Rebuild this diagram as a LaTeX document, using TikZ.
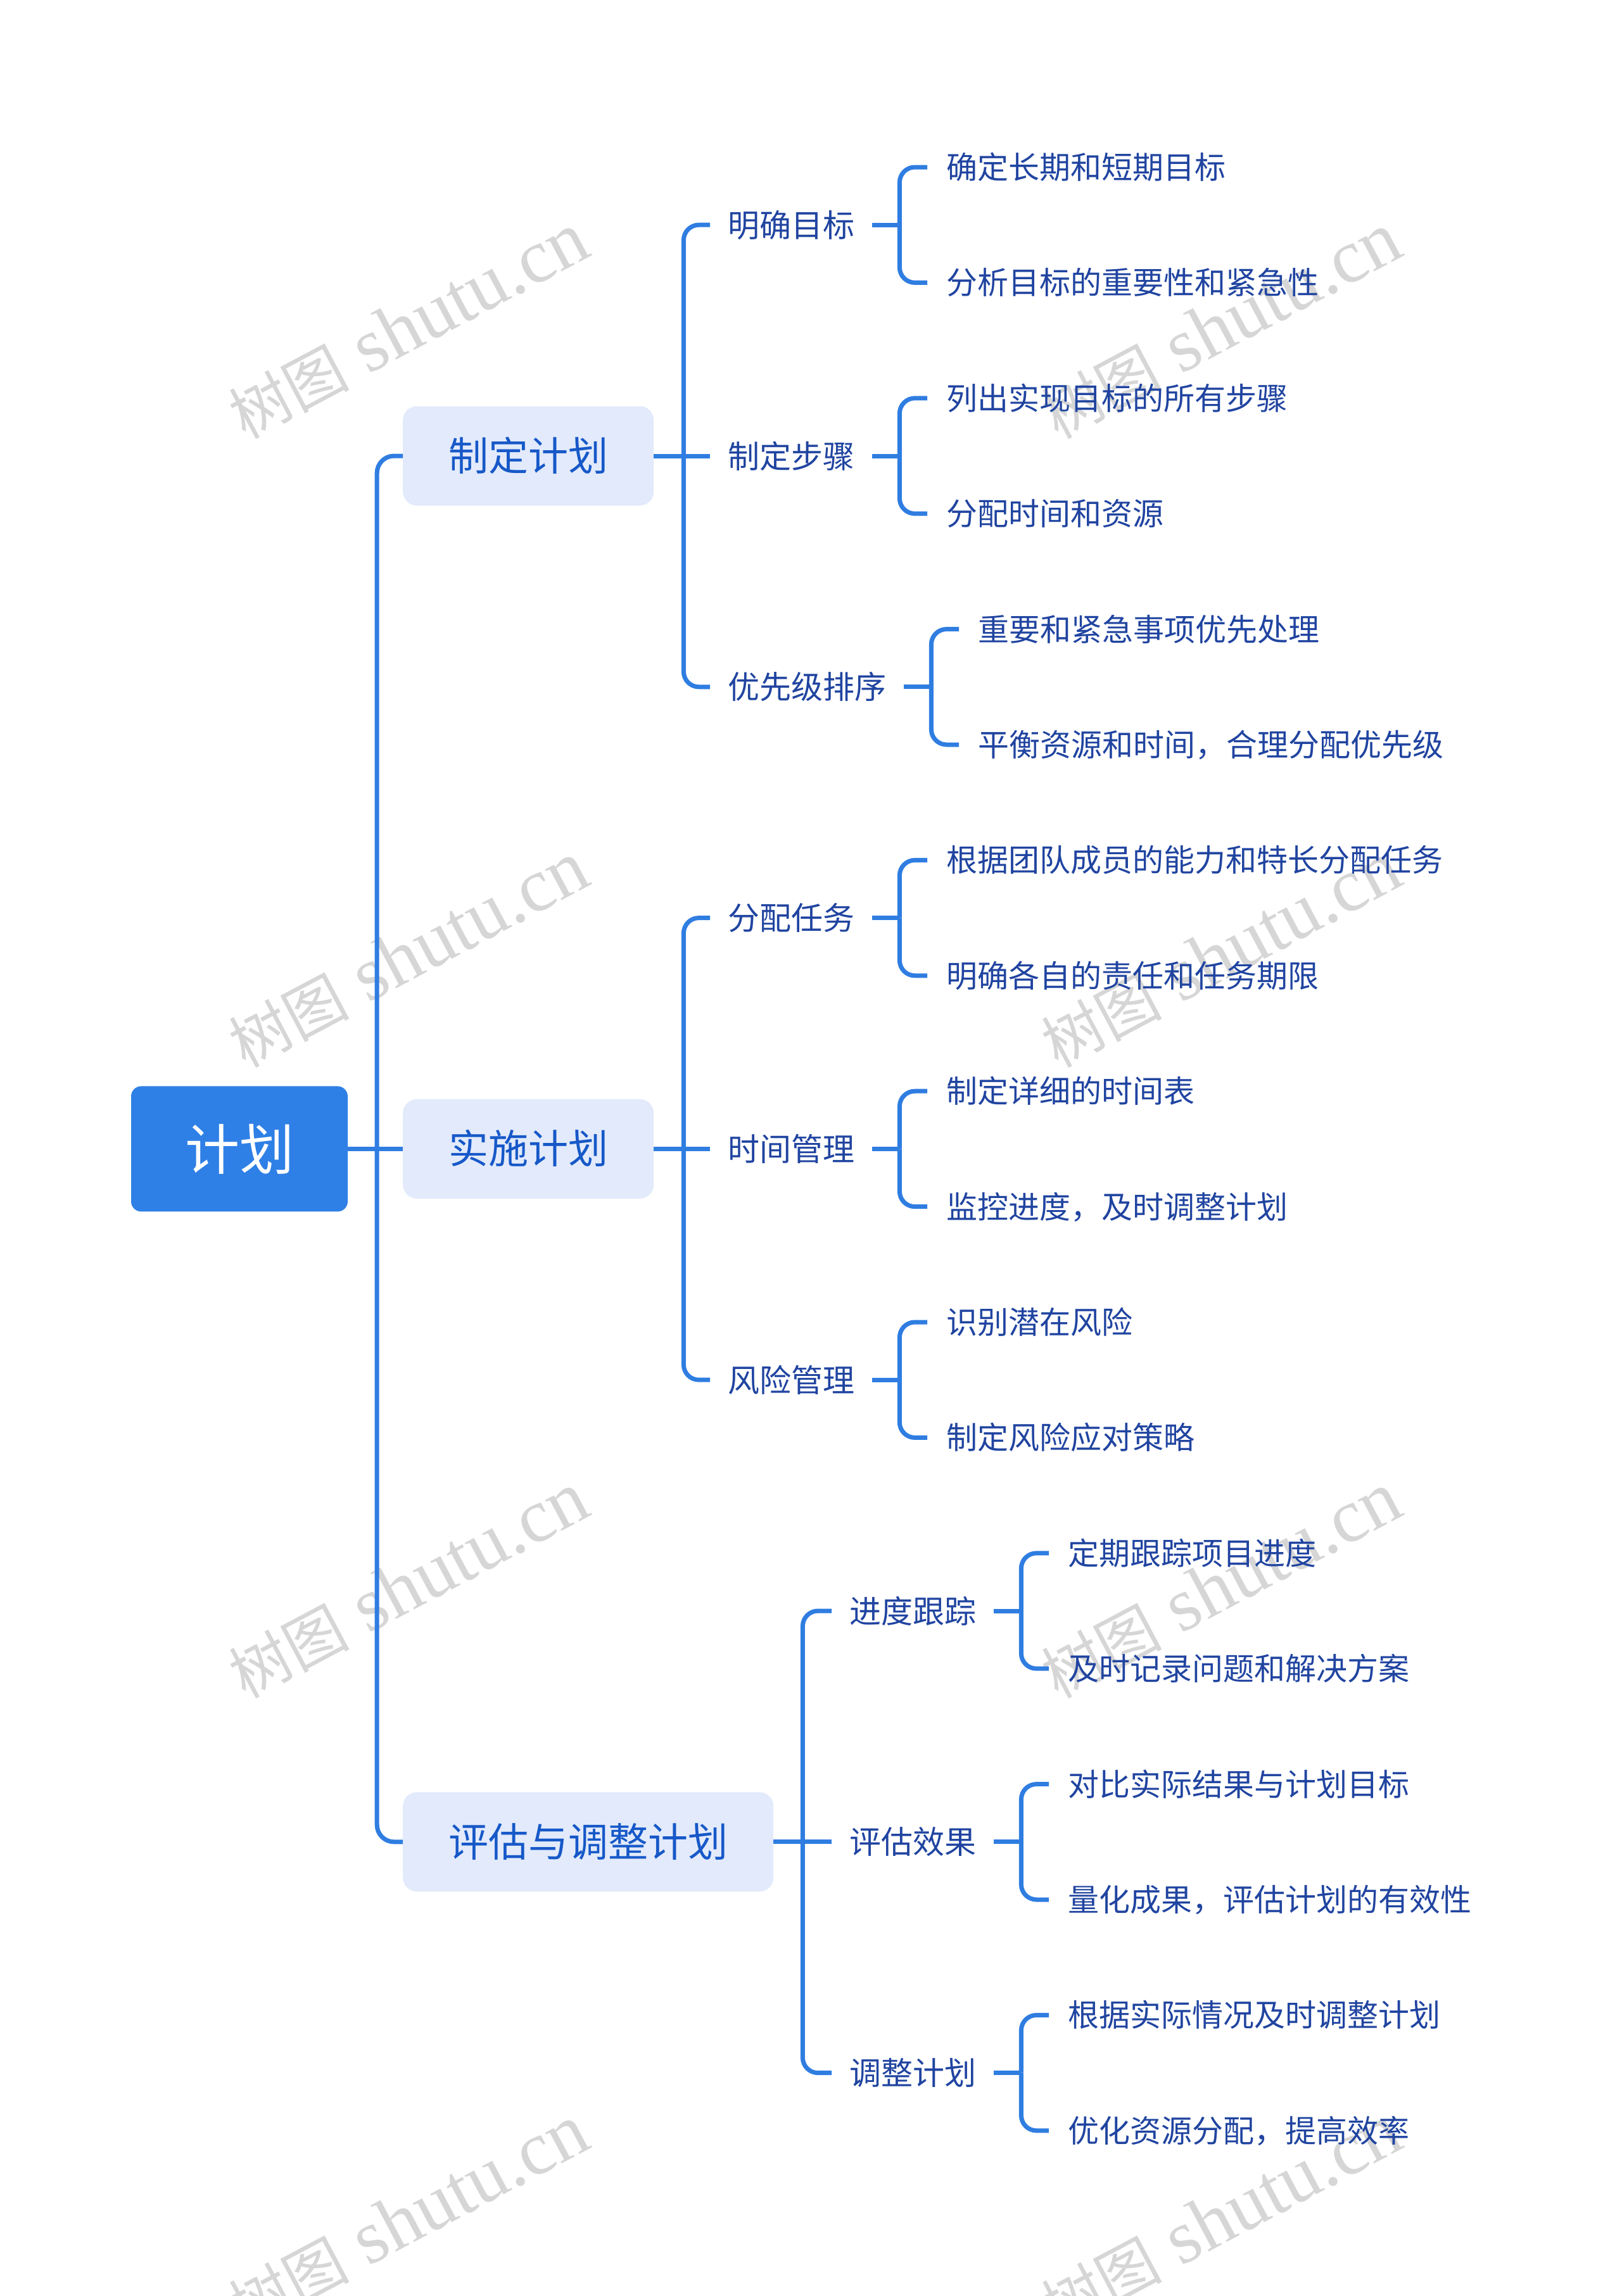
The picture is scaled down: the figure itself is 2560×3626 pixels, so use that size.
\documentclass[tikz,border=0pt]{standalone}
\usepackage{fontspec}
\setmainfont{Liberation Serif}
\newfontfamily\cjk{Noto Sans CJK SC}
\definecolor{linec}{RGB}{47,125,225}
\definecolor{rootc}{RGB}{47,128,230}
\definecolor{boxc}{RGB}{226,234,251}
\definecolor{lonec}{RGB}{22,88,200}
\definecolor{leafc}{RGB}{32,68,160}
\definecolor{wmc}{RGB}{214,214,214}
\begin{document}
\begin{tikzpicture}[x=1pt,y=-1pt,
  conn/.style={draw=linec, line width=7pt},
  curvelink/.style={conn, rounded corners=24pt},
  trunklink/.style={conn, rounded corners=27pt},
  rootbox/.style={fill=rootc, rounded corners=16pt, text=white, font=\cjk\fontsize{86pt}{100pt}\selectfont, inner xsep=85pt, inner ysep=0pt, minimum height=198pt, text height=76pt, text depth=10pt},
  onebox/.style={fill=boxc, rounded corners=22pt, text=lonec, font=\cjk\fontsize{63pt}{76pt}\selectfont, inner xsep=72pt, inner ysep=0pt, minimum height=157pt, text height=55pt, text depth=8pt, anchor=west},
  twonode/.style={text=leafc, font=\cjk\fontsize{50pt}{60pt}\selectfont, inner xsep=28pt, inner ysep=0pt, text height=44pt, text depth=6pt, anchor=west},
  leafnode/.style={twonode, inner xsep=30pt, font=\cjk\fontsize{49pt}{60pt}\selectfont, text height=43pt, text depth=6pt},
  wm/.style={text=wmc, rotate=28, font=\fontsize{120pt}{140pt}\selectfont, inner sep=0pt}
]
\useasboundingbox (0,0) rectangle (2560,3626);
% watermarks
\foreach \wx/\wy [count=\n] in {645/515,1928/515,645/1508,1928/1508,645/2504,1928/2504,645/3503,1928/3503}
  \node[wm] (wm\n) at (\wx,\wy) {{\cjk\fontsize{95pt}{110pt}\selectfont 树图} shutu.cn};

% root and level 1
\node[rootbox] (root) at (378,1814.4) {计划};
\node[onebox] (b1) at (636,720) {制定计划};
\node[onebox] (b2) at (636,1814.4) {实施计划};
\node[onebox] (b3) at (636,2908.8) {评估与调整计划};

% level 2
\node[twonode] (m1) at (1121,355.2) {明确目标};
\node[twonode] (m2) at (1121,720) {制定步骤};
\node[twonode] (m3) at (1121,1084.8) {优先级排序};
\node[twonode] (m4) at (1121,1449.6) {分配任务};
\node[twonode] (m5) at (1121,1814.4) {时间管理};
\node[twonode] (m6) at (1121,2179.2) {风险管理};
\node[twonode] (m7) at (1313,2544) {进度跟踪};
\node[twonode] (m8) at (1313,2908.8) {评估效果};
\node[twonode] (m9) at (1313,3273.6) {调整计划};

% leaves
\node[leafnode] (la1) at (1464,264.0) {确定长期和短期目标};
\node[leafnode] (lb1) at (1464,446.4) {分析目标的重要性和紧急性};
\node[leafnode] (la2) at (1464,628.8) {列出实现目标的所有步骤};
\node[leafnode] (lb2) at (1464,811.2) {分配时间和资源};
\node[leafnode] (la3) at (1514,993.6) {重要和紧急事项优先处理};
\node[leafnode] (lb3) at (1514,1176.0) {平衡资源和时间，合理分配优先级};
\node[leafnode] (la4) at (1464,1358.4) {根据团队成员的能力和特长分配任务};
\node[leafnode] (lb4) at (1464,1540.8) {明确各自的责任和任务期限};
\node[leafnode] (la5) at (1464,1723.2) {制定详细的时间表};
\node[leafnode] (lb5) at (1464,1905.6) {监控进度，及时调整计划};
\node[leafnode] (la6) at (1464,2088.0) {识别潜在风险};
\node[leafnode] (lb6) at (1464,2270.4) {制定风险应对策略};
\node[leafnode] (la7) at (1656,2452.8) {定期跟踪项目进度};
\node[leafnode] (lb7) at (1656,2635.2) {及时记录问题和解决方案};
\node[leafnode] (la8) at (1656,2817.6) {对比实际结果与计划目标};
\node[leafnode] (lb8) at (1656,3000.0) {量化成果，评估计划的有效性};
\node[leafnode] (la9) at (1656,3182.4) {根据实际情况及时调整计划};
\node[leafnode] (lb9) at (1656,3364.8) {优化资源分配，提高效率};

% connectors root -> level 1
\draw[conn] (root.east) -- ++(46,0) coordinate (t0);
\draw[trunklink] (t0) |- (b1.west);
\draw[conn] (t0) -- (b2.west);
\draw[trunklink] (t0) |- (b3.west);

% level 1 -> level 2
\draw[conn] (b1.east) -- ++(47,0) coordinate (j1);
\draw[curvelink] (j1) |- (m1.west);
\draw[conn] (j1) -- (m2.west);
\draw[curvelink] (j1) |- (m3.west);
\draw[conn] (b2.east) -- ++(47,0) coordinate (j2);
\draw[curvelink] (j2) |- (m4.west);
\draw[conn] (j2) -- (m5.west);
\draw[curvelink] (j2) |- (m6.west);
\draw[conn] (b3.east) -- ++(46,0) coordinate (j3);
\draw[curvelink] (j3) |- (m7.west);
\draw[conn] (j3) -- (m8.west);
\draw[curvelink] (j3) |- (m9.west);

% level 2 -> leaves
\foreach \i in {1,...,9} {
  \draw[conn] (m\i.east) -- ++(43,0) coordinate (k\i);
  \draw[curvelink] (k\i) |- (la\i.west);
  \draw[curvelink] (k\i) |- (lb\i.west);
}
\end{tikzpicture}
\end{document}
